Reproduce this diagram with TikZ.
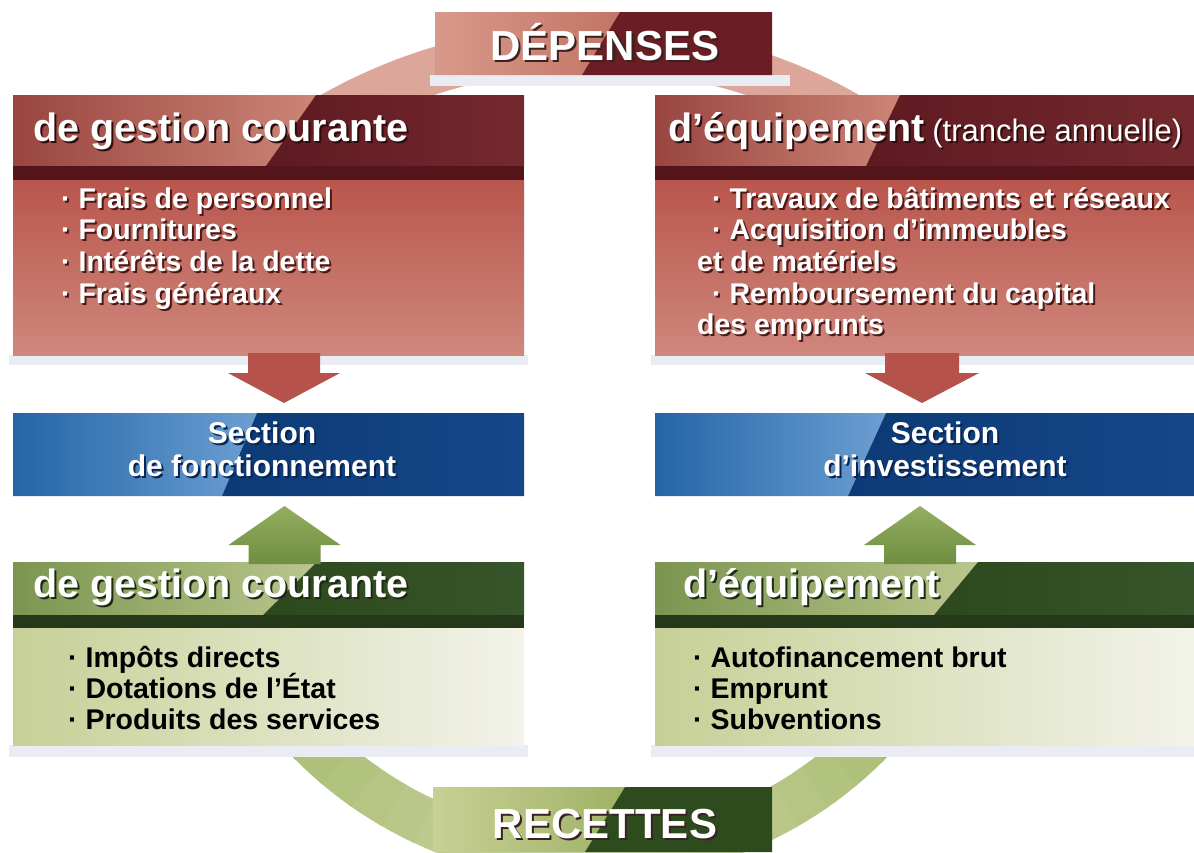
\documentclass[tikz,border=0pt]{standalone}
\usepackage{fontspec}
\setmainfont{Liberation Sans}
\usetikzlibrary{calc}
\definecolor{arcred}{HTML}{DDA69B}
\definecolor{arcgreen}{HTML}{9FB463}
\definecolor{arcgreenL}{HTML}{CDD6A6}
\definecolor{shadowc}{HTML}{E9ECF2}
\definecolor{redbodytop}{HTML}{B9564D}
\definecolor{redbodybot}{HTML}{CF877C}
\definecolor{redhdrA}{HTML}{9A4540}
\definecolor{redhdrB}{HTML}{CC8577}
\definecolor{redhdrC}{HTML}{5E1A21}
\definecolor{redhdrD}{HTML}{74292E}
\definecolor{redstripe}{HTML}{531519}
\definecolor{redarrow}{HTML}{B4524B}
\definecolor{blueA}{HTML}{2465A8}
\definecolor{blueB}{HTML}{6C9FD2}
\definecolor{blueC}{HTML}{0C3A76}
\definecolor{blueD}{HTML}{154789}
\definecolor{greenA}{HTML}{7B9550}
\definecolor{greenB}{HTML}{BAC68D}
\definecolor{greenC}{HTML}{2D481D}
\definecolor{greenD}{HTML}{37552A}
\definecolor{greenstripe}{HTML}{25391A}
\definecolor{gbodyA}{HTML}{C6D096}
\definecolor{gbodyB}{HTML}{F3F3EA}
\definecolor{garrowA}{HTML}{93AE60}
\definecolor{garrowB}{HTML}{6F8E41}
\definecolor{depA}{HTML}{D8998B}
\definecolor{depB}{HTML}{C27566}
\definecolor{depC}{HTML}{6A1D23}
\definecolor{recA}{HTML}{C8D094}
\definecolor{recB}{HTML}{9FB266}
\definecolor{recC}{HTML}{2E4B1E}
\definecolor{bigsh}{HTML}{3A2222}
\definecolor{hdrsh}{HTML}{2E0C0E}
\definecolor{ghdrsh}{HTML}{1C2A12}
\definecolor{bulsh}{HTML}{4A1A18}
\definecolor{secsh}{HTML}{0A2550}
\newcommand\shtext[6]{%
  \node[#4, text=#5] (#1-sh) at (#2+2,#3+2) {#6};
  \node[#4] (#1) at (#2,#3) {#6};}
\begin{document}
\begin{tikzpicture}[x=1pt,y=-1pt,
  anch/.style={rectangle, draw=none, inner sep=0pt, outer sep=0pt},
  big/.style={font=\bfseries\fontsize{42}{44}\selectfont, text=white, anchor=base, inner sep=0pt},
  hdr/.style={font=\bfseries\fontsize{39.5}{41}\selectfont, text=white, anchor=base west, inner sep=0pt},
  hdrsmall/.style={font=\fontsize{31}{33}\selectfont, text=white, anchor=base west, inner sep=0pt},
  bul/.style={font=\bfseries\fontsize{28.5}{30}\selectfont, text=white, anchor=base west, inner sep=0pt},
  gbul/.style={font=\bfseries\fontsize{28.5}{30}\selectfont, text=black, anchor=base west, inner sep=0pt},
  sec/.style={font=\bfseries\fontsize{30}{32}\selectfont, text=white, anchor=base, inner sep=0pt}]
\useasboundingbox (0,0) rectangle (1194,852);
\fill[white] (0,0) rectangle (1194,852);

% circular flows
\draw[line width=46pt, arcred] plot[domain=48:132, samples=80] ({590+523*cos(\x)},{570-523*sin(\x)});
\foreach \a in {25,30,...,150}{
  \pgfmathtruncatemacro\m{100-abs(\a+2.5-90)/65*100}
  \draw[line width=48pt, color=arcgreenL!\m!arcgreen] plot[domain=\a:\a+5.6, samples=4] ({590+392*cos(\x)},{466+392*sin(\x)});
}

% anchor nodes for the boxes
\node[anch, minimum width=511pt, minimum height=260pt] (rl) at (268.5,225) {};
\node[anch, minimum width=539pt, minimum height=260pt] (rr) at (924.5,225) {};
\node[anch, minimum width=511pt, minimum height=83pt] (bl) at (268.5,454.5) {};
\node[anch, minimum width=539pt, minimum height=83pt] (br) at (924.5,454.5) {};
\node[anch, minimum width=511pt, minimum height=183pt] (gl) at (268.5,653.5) {};
\node[anch, minimum width=539pt, minimum height=183pt] (gr) at (924.5,653.5) {};
\node[anch, minimum width=337pt, minimum height=63pt] (dep) at (603.5,43.5) {};
\node[anch, minimum width=339pt, minimum height=65pt] (rec) at (602.5,819.5) {};

% soft shadows
\fill[shadowc] (430,75) rectangle (790,86);
\fill[shadowc] (9,355) rectangle (528,365);
\fill[shadowc] (651,355) rectangle (1194,365);
\fill[shadowc] (9,745) rectangle (528,757);
\fill[shadowc] (651,745) rectangle (1194,757);

% DEPENSES box
\shade[left color=depA, right color=depB] (435,12) -- (620,12) -- (582,75) -- (435,75) -- cycle;
\fill[depC] (620,12) -- (772,12) -- (772,75) -- (582,75) -- cycle;

% RECETTES box
\shade[left color=recA, right color=recB] (433,787) -- (625,787) -- (585,852) -- (433,852) -- cycle;
\fill[recC] (625,787) -- (772,787) -- (772,852) -- (585,852) -- cycle;

% red boxes
\shade[top color=redbodytop, bottom color=redbodybot] (13,180) rectangle (524,355);
\shade[left color=redhdrA, right color=redhdrB] (13,95) -- (316,95) -- (266,166) -- (13,166) -- cycle;
\shade[left color=redhdrC, right color=redhdrD] (316,95) -- (524,95) -- (524,166) -- (266,166) -- cycle;
\fill[redstripe] (13,166) rectangle (524,180);

\shade[top color=redbodytop, bottom color=redbodybot] (655,180) rectangle (1194,355);
\shade[left color=redhdrA, right color=redhdrB] (655,95) -- (900,95) -- (866,166) -- (655,166) -- cycle;
\shade[left color=redhdrC, right color=redhdrD] (900,95) -- (1194,95) -- (1194,166) -- (866,166) -- cycle;
\fill[redstripe] (655,166) rectangle (1194,180);

% blue boxes
\shade[left color=blueA, right color=blueB] (13,413) -- (257,413) -- (222,496) -- (13,496) -- cycle;
\shade[left color=blueC, right color=blueD] (257,413) -- (524,413) -- (524,496) -- (222,496) -- cycle;
\shade[left color=blueA, right color=blueB] (655,413) -- (886,413) -- (848,496) -- (655,496) -- cycle;
\shade[left color=blueC, right color=blueD] (886,413) -- (1194,413) -- (1194,496) -- (848,496) -- cycle;

% green boxes
\shade[left color=gbodyA, right color=gbodyB] (13,628) rectangle (524,745);
\shade[left color=greenA, right color=greenB] (13,562) -- (317,562) -- (263,615) -- (13,615) -- cycle;
\shade[left color=greenC, right color=greenD] (317,562) -- (524,562) -- (524,615) -- (263,615) -- cycle;
\fill[greenstripe] (13,615) rectangle (524,628);

\shade[left color=gbodyA, right color=gbodyB] (655,628) rectangle (1194,745);
\shade[left color=greenA, right color=greenB] (655,562) -- (978,562) -- (934,615) -- (655,615) -- cycle;
\shade[left color=greenC, right color=greenD] (978,562) -- (1194,562) -- (1194,615) -- (934,615) -- cycle;
\fill[greenstripe] (655,615) rectangle (1194,628);

% red arrows (expenses -> sections)
\coordinate (ra1) at ($(rl.south)+(15.5,-2)$);
\coordinate (ra1t) at ($(bl.north)+(15.5,-10)$);
\fill[redarrow] ($(ra1)+(-36,0)$) -- ($(ra1)+(-36,20)$) -- ($(ra1)+(-56,20)$) -- (ra1t)
  -- ($(ra1)+(56,20)$) -- ($(ra1)+(36,20)$) -- ($(ra1)+(36,0)$) -- cycle;
\coordinate (ra2) at ($(rr.south)+(-2.5,-2)$);
\coordinate (ra2t) at ($(br.north)+(-2.5,-10)$);
\fill[redarrow] ($(ra2)+(-37,0)$) -- ($(ra2)+(-37,20)$) -- ($(ra2)+(-57,20)$) -- (ra2t)
  -- ($(ra2)+(57,20)$) -- ($(ra2)+(37,20)$) -- ($(ra2)+(37,0)$) -- cycle;

% green arrows (receipts -> sections)
\coordinate (ga1) at ($(gl.north)+(16,2)$);
\coordinate (ga1t) at ($(bl.south)+(16,10)$);
\shade[top color=garrowA, bottom color=garrowB] ($(ga1)+(-36,0)$) -- ($(ga1)+(-36,-19)$) -- ($(ga1)+(-56,-19)$) -- (ga1t)
  -- ($(ga1)+(56,-19)$) -- ($(ga1)+(36,-19)$) -- ($(ga1)+(36,0)$) -- cycle;
\coordinate (ga2) at ($(gr.north)+(-4.5,2)$);
\coordinate (ga2t) at ($(br.south)+(-4.5,10)$);
\shade[top color=garrowA, bottom color=garrowB] ($(ga2)+(-36,0)$) -- ($(ga2)+(-36,-19)$) -- ($(ga2)+(-56,-19)$) -- (ga2t)
  -- ($(ga2)+(56,-19)$) -- ($(ga2)+(36,-19)$) -- ($(ga2)+(36,0)$) -- cycle;

% titles
\shtext{deptxt}{605}{60}{big}{bigsh}{DÉPENSES}
\shtext{rectxt}{605}{838}{big}{bigsh}{RECETTES}

% red headers
\shtext{rlh}{33}{141}{hdr}{hdrsh}{de gestion courante}
\shtext{rrh}{668}{141}{hdr}{hdrsh}{d’équipement}
\node[hdrsmall, text=hdrsh] (rrh2-sh) at ($(rrh.base east)+(9,2)$) {(tranche annuelle)};
\node[hdrsmall] (rrh2) at ($(rrh.base east)+(7,0)$) {(tranche annuelle)};

% red bullets
\shtext{rl1}{61}{208}{bul}{bulsh}{· Frais de personnel}
\shtext{rl2}{61}{239.7}{bul}{bulsh}{· Fournitures}
\shtext{rl3}{61}{271.4}{bul}{bulsh}{· Intérêts de la dette}
\shtext{rl4}{61}{303.1}{bul}{bulsh}{· Frais généraux}
\shtext{rr1}{712}{208}{bul}{bulsh}{· Travaux de bâtiments et réseaux}
\shtext{rr2}{712}{239.7}{bul}{bulsh}{· Acquisition d’immeubles}
\shtext{rr3}{697}{271.4}{bul}{bulsh}{et de matériels}
\shtext{rr4}{712}{303.1}{bul}{bulsh}{· Remboursement du capital}
\shtext{rr5}{697}{334.8}{bul}{bulsh}{des emprunts}

% blue sections
\shtext{bl1}{262}{443}{sec}{secsh}{Section}
\shtext{bl2}{262}{476}{sec}{secsh}{de fonctionnement}
\shtext{br1}{945}{443}{sec}{secsh}{Section}
\shtext{br2}{945}{476}{sec}{secsh}{d’investissement}

% green headers
\shtext{glh}{33}{597}{hdr}{ghdrsh}{de gestion courante}
\shtext{grh}{683}{597}{hdr}{ghdrsh}{d’équipement}

% green bullets
\node[gbul] (gl1) at (68,667) {· Impôts directs};
\node[gbul] (gl2) at (68,698) {· Dotations de l’État};
\node[gbul] (gl3) at (68,729) {· Produits des services};
\node[gbul] (gr1) at (693,667) {· Autofinancement brut};
\node[gbul] (gr2) at (693,698) {· Emprunt};
\node[gbul] (gr3) at (693,729) {· Subventions};
\end{tikzpicture}
\end{document}
